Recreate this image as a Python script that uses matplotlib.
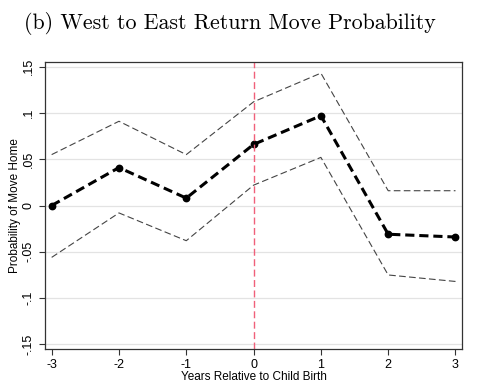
import matplotlib.pyplot as plt
import numpy as np

# data
years = [-3, -2, -1, 0, 1, 2, 3]
coef = [0.0, 0.041, 0.008, 0.066, 0.097, -0.031, -0.034]
ci_hi = [0.055, 0.091, 0.055, 0.112, 0.143, 0.016, 0.016]
ci_lo = [-0.056, -0.008, -0.038, 0.022, 0.052, -0.075, -0.082]
yticks = [-0.15, -0.1, -0.05, 0, 0.05, 0.1, 0.15]
ylabels = ["-.15", "-.1", "-.05", "0", ".05", ".1", ".15"]

plt.rcParams['font.family'] = ['Liberation Sans', 'DejaVu Sans']

fig = plt.figure(figsize=(4.78, 3.90), dpi=100)
ax = fig.add_axes([0.094, 0.105, 0.873, 0.736])

for y in yticks:
    ax.axhline(y, color='#e3e3e3', lw=0.9, zorder=0)

ax.plot(years, ci_hi, color='#444444', lw=0.8, ls=(0, (6, 3)))
ax.plot(years, ci_lo, color='#444444', lw=0.8, ls=(0, (6, 3)))
ax.plot(years, coef, color='black', lw=2.2, ls=(0, (3, 1.6)),
        marker='o', ms=4.6)
ax.axvline(0, color='#f0607a', lw=1.0, ls=(0, (5, 2.5)))

ax.set_xlim(-3.1, 3.1)
ax.set_ylim(-0.155, 0.155)
ax.set_xticks(years)
ax.set_xticklabels([str(x) for x in years], fontsize=9)
ax.set_yticks(yticks)
ax.set_yticklabels(ylabels, fontsize=9, rotation=90, va='center')
ax.tick_params(direction='out', length=4, width=0.8, color='#333333')
for s in ax.spines.values():
    s.set_color('#333333')
    s.set_linewidth(0.9)

ax.set_xlabel("Years Relative to Child Birth", fontsize=8.5, labelpad=0)
ax.set_ylabel("Probability of Move Home", fontsize=8.5, labelpad=1)

fig.text(0.05, 0.925, "(b) West to East Return Move Probability",
         fontsize=15.8, family='cmr10')

fig.savefig("out.png", dpi=100)
